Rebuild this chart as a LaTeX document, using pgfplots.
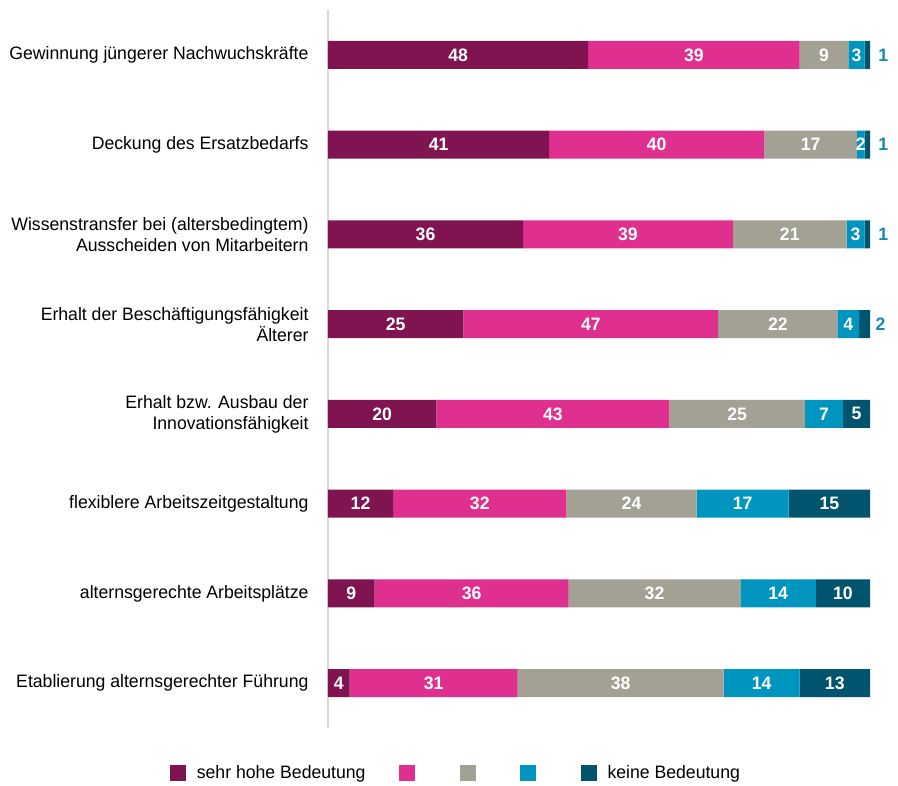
\documentclass[border=0pt]{standalone}
\usepackage{fontspec}
\setmainfont{Liberation Sans}[FakeStretch=0.98]
\usepackage{pgfplots}
\pgfplotsset{compat=1.18}
\definecolor{c1}{HTML}{7F1450}
\definecolor{c2}{HTML}{E0308F}
\definecolor{c3}{HTML}{A3A194}
\definecolor{c4}{HTML}{0095BE}
\definecolor{c5}{HTML}{00546E}
\definecolor{lblblue}{HTML}{1687B4}
\definecolor{axisgrey}{HTML}{D9D9D9}
\newcommand{\lbl}{\fontsize{18}{21}\selectfont}

\begin{document}
\begin{tikzpicture}[x=1pt,y=1pt]
\path[use as bounding box] (0,0) rectangle (898,786);
\begin{axis}[
  at={(328pt,58pt)}, anchor=south west,
  scale only axis, width=542pt, height=718pt,
  xbar stacked, bar width=28pt,
  xmin=0, xmax=100, ymin=-0.5, ymax=7.5, y dir=reverse,
  axis x line=none, axis y line*=left,
  y axis line style={-, draw=axisgrey, line width=2pt},
  ytick={0,...,7}, ytick style={draw=none},
  yticklabels={
    {Gewinnung jüngerer Nachwuchskräfte},
    {Deckung des Ersatzbedarfs},
    {Wissenstransfer bei (altersbedingtem)\\Ausscheiden von Mitarbeitern},
    {Erhalt der Beschäftigungsfähigkeit\\Älterer},
    {Erhalt bzw. Ausbau der\\Innovationsfähigkeit},
    {flexiblere Arbeitszeitgestaltung},
    {alternsgerechte Arbeitsplätze},
    {Etablierung alternsgerechter Führung}},
  yticklabel style={align=right, xshift=-16pt, font=\lbl, text=black},
  clip=false,
  point meta=explicit,
  /pgf/number format/assume math mode=true,
  visualization depends on=rawx \as \rawx,
  nodes near coords={\pgfmathprintnumber{\pgfplotspointmeta}},
  every node near coord/.append style={anchor=center, text=white,
    font=\lbl\bfseries},
  legend columns=5,
  legend style={at={(0.236,-0.0627)}, anchor=center, draw=none, fill=none,
    font=\lbl,
    /tikz/every odd column/.append style={column sep=9pt},
    /tikz/every even column/.append style={column sep=31.5pt}},
  legend image code/.code={\fill[#1] (0pt,-8pt) rectangle (16pt,8pt);},
]
\addplot[fill=c1, draw=none] coordinates
  {(48,0) [48] (40.8,1) [41] (36,2) [36] (25,3) [25] (20,4) [20]
   (12,5) [12] (8.6,6) [9] (4,7) [4]};
\addplot[fill=c2, draw=none] coordinates
  {(39,0) [39] (39.7,1) [40] (38.7,2) [39] (47,3) [47] (43,4) [43]
   (32,5) [32] (35.8,6) [36] (31,7) [31]};
\addplot[fill=c3, draw=none] coordinates
  {(9,0) [9] (17.1,1) [17] (21,2) [21] (22,3) [22] (25,4) [25]
   (24,5) [24] (31.7,6) [32] (38,7) [38]};
\addplot[fill=c4, draw=none] coordinates
  {(3,0) [3] (1.4,1) [2] (3.3,2) [3] (4,3) [4] (7,4) [7]
   (17,5) [17] (13.9,6) [14] (14,7) [14]};
% small last segments: label set outside the bar
\addplot[fill=c5, draw=none,
  nodes near coords={\ifdim\rawx pt<2.5pt\relax
    \makebox[0pt][l]{\hspace{11pt}\textcolor{lblblue}{\pgfmathprintnumber{\pgfplotspointmeta}}}%
    \else\pgfmathprintnumber{\pgfplotspointmeta}\fi}]
  coordinates
  {(1,0) [1] (1,1) [1] (1,2) [1] (2,3) [2] (5,4) [5]
   (15,5) [15] (10,6) [10] (13,7) [13]};
\legend{sehr hohe Bedeutung,\mbox{},\mbox{},\mbox{},keine Bedeutung}
\end{axis}
\end{tikzpicture}
\end{document}
